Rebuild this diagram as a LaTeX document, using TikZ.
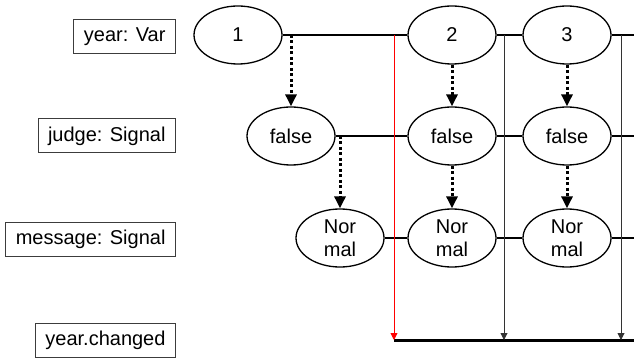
\documentclass[tikz,border=0pt]{standalone}
\usepackage{fontspec}
\setmainfont{Liberation Sans}
\usetikzlibrary{arrows.meta,shapes.geometric}
\definecolor{frame}{HTML}{3C3C3C}
\definecolor{trace}{HTML}{333333}
\definecolor{hot}{HTML}{FF0000}

\begin{document}
\begin{tikzpicture}[x=1pt,y=-1pt,
  lbl/.style={draw=frame,line width=1pt,anchor=east,minimum height=34pt,inner xsep=10pt,font=\fontsize{20}{23}\selectfont},
  val/.style={draw,ellipse,line width=1.3pt,minimum width=88pt,minimum height=58pt,inner sep=0pt,align=center,font=\fontsize{20}{23}\selectfont},
  link/.style={line width=2pt},
  dep/.style={-{Triangle[length=12pt,width=11pt]},line width=3pt,dash pattern=on 3pt off 2.5pt},
  tick/.style={-{Triangle[length=7pt,width=7pt]},line width=.9pt,draw=trace}]
\useasboundingbox (0,0) rectangle (634,358);
% labels on the left
\node[lbl] (ly) at (176,37){year: Var};
\node[lbl] (lj) at (176,136){judge: Signal};
\node[lbl] (lm) at (176,239){message: Signal};
\node[lbl] (lc) at (176,340){year.changed};
% values
\node[val] (y1) at (238,35){1};
\node[val] (y2) at (452,35){2};
\node[val] (y3) at (567,35){3};
\node[val] (j1) at (291,136){false};
\node[val] (j2) at (452,136){false};
\node[val] (j3) at (567,136){false};
\node[val] (m1) at (340,238){Nor\\mal};
\node[val] (m2) at (452,238){Nor\\mal};
\node[val] (m3) at (567,238){Nor\\mal};
\coordinate (yend) at (634,35);\coordinate (jend) at (634,136);\coordinate (mend) at (634,238);
\coordinate (c0) at (394,340);\coordinate (c1) at (504,340);\coordinate (c2) at (621,340);\coordinate (cend) at (634,340);
% timelines
\draw[link] (y1)--(y2);\draw[link] (y2)--(y3);\draw[link] (y3)--(yend);
\draw[link] (j1)--(j2);\draw[link] (j2)--(j3);\draw[link] (j3)--(jend);
\draw[link] (m1)--(m2);\draw[link] (m2)--(m3);\draw[link] (m3)--(mend);
\draw[line width=3pt] (c0)--(cend);
% dependencies
\draw[dep] (y1.east -| j1.north)--(j1);\draw[dep] (j1.east -| m1.north)--(m1);
\draw[dep] (y2)--(j2);\draw[dep] (j2)--(m2);
\draw[dep] (y3)--(j3);\draw[dep] (j3)--(m3);
% change events
\draw[tick,draw=hot] (y1.east -| c0)--(c0);
\draw[tick] (y1.east -| c1)--(c1);\draw[tick] (y1.east -| c2)--(c2);
\end{tikzpicture}
\end{document}
